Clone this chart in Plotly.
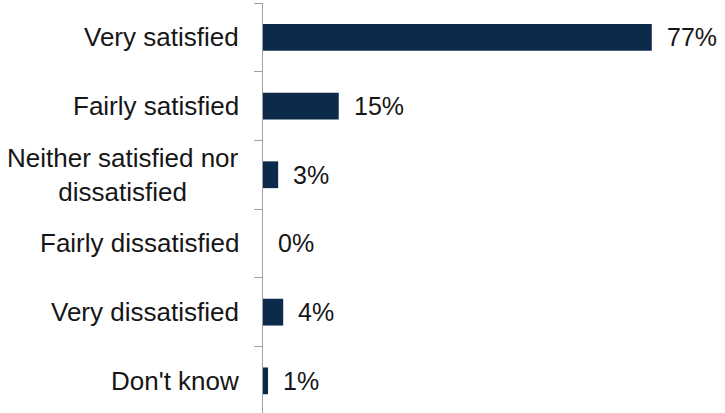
import plotly.graph_objects as go

# Survey responses, top to bottom
categories = [
    "Very satisfied",
    "Fairly satisfied",
    "Neither satisfied nor<br>dissatisfied",
    "Fairly dissatisfied",
    "Very dissatisfied",
    "Don't know",
]
values = [77, 15, 3, 0, 4, 1]

BAR_COLOR = "#0c2a4a"
TEXT_COLOR = "#161616"
AXIS_COLOR = "#a0a0a0"
FONT = "Liberation Sans, Arial, sans-serif"

fig = go.Figure(
    go.Bar(
        x=values,
        y=list(range(len(categories))),
        orientation="h",
        marker=dict(color=BAR_COLOR, line=dict(width=0)),
        width=0.39,
        hoverinfo="skip",
    )
)

annotations = []
# Category labels, right-aligned against the axis; multi-line labels centred
for i, cat in enumerate(categories):
    annotations.append(
        dict(
            text=cat,
            xref="paper",
            x=0,
            yref="y",
            y=i,
            xanchor="right",
            yanchor="middle",
            xshift=-22,
            align="center",
            showarrow=False,
            font=dict(family=FONT, size=26, color=TEXT_COLOR),
        )
    )
# Percentage labels just past the end of each bar
for i, v in enumerate(values):
    annotations.append(
        dict(
            text=f"{v}%",
            xref="x",
            x=v,
            yref="y",
            y=i,
            xanchor="left",
            yanchor="middle",
            xshift=13,
            showarrow=False,
            font=dict(family=FONT, size=25, color=TEXT_COLOR),
        )
    )

fig.update_layout(
    width=725,
    height=413,
    margin=dict(l=263, r=0, t=3, b=0, pad=0),
    paper_bgcolor="white",
    plot_bgcolor="white",
    showlegend=False,
    annotations=annotations,
    xaxis=dict(
        range=[0, 91.5],
        visible=False,
        showgrid=False,
        zeroline=False,
    ),
    yaxis=dict(
        type="linear",
        range=[5.468, -0.5],
        showgrid=False,
        zeroline=False,
        showline=True,
        linecolor=AXIS_COLOR,
        linewidth=1,
        ticks="outside",
        ticklen=8,
        tickcolor=AXIS_COLOR,
        tickwidth=1,
        tickmode="array",
        tickvals=[k - 0.5 for k in range(len(categories) + 1)],
        showticklabels=False,
    ),
)

fig.write_html("out.html")
